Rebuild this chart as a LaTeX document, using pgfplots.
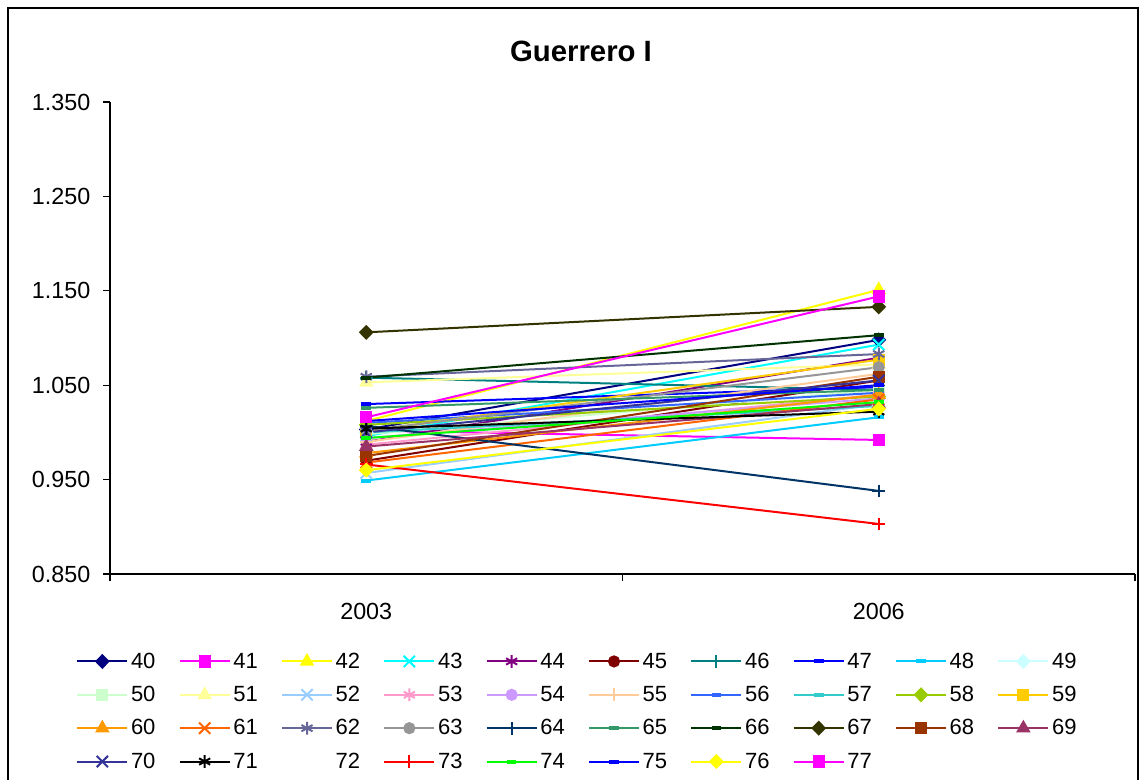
\documentclass[border=0pt]{standalone}
\usepackage{fontspec}
\setmainfont{Liberation Sans}
\usepackage{pgfplots}
\pgfplotsset{compat=1.18}
% Excel 2003 palette, one colour per series
\definecolor{c40}{HTML}{000080}\definecolor{c41}{HTML}{FF00FF}\definecolor{c42}{HTML}{FFFF00}
\definecolor{c43}{HTML}{00FFFF}\definecolor{c44}{HTML}{800080}\definecolor{c45}{HTML}{800000}
\definecolor{c46}{HTML}{008080}\definecolor{c47}{HTML}{0000FF}\definecolor{c48}{HTML}{00CCFF}
\definecolor{c49}{HTML}{CCFFFF}\definecolor{c50}{HTML}{CCFFCC}\definecolor{c51}{HTML}{FFFF99}
\definecolor{c52}{HTML}{99CCFF}\definecolor{c53}{HTML}{FF99CC}\definecolor{c54}{HTML}{CC99FF}
\definecolor{c55}{HTML}{FFCC99}\definecolor{c56}{HTML}{3366FF}\definecolor{c57}{HTML}{33CCCC}
\definecolor{c58}{HTML}{99CC00}\definecolor{c59}{HTML}{FFCC00}\definecolor{c60}{HTML}{FF9900}
\definecolor{c61}{HTML}{FF6600}\definecolor{c62}{HTML}{666699}\definecolor{c63}{HTML}{969696}
\definecolor{c64}{HTML}{003366}\definecolor{c65}{HTML}{339966}\definecolor{c66}{HTML}{003300}
\definecolor{c67}{HTML}{333300}\definecolor{c68}{HTML}{993300}\definecolor{c69}{HTML}{993366}
\definecolor{c70}{HTML}{333399}\definecolor{c71}{HTML}{000000}\definecolor{c73}{HTML}{FF0000}
\definecolor{c74}{HTML}{00FF00}\definecolor{c75}{HTML}{0000FF}\definecolor{c76}{HTML}{FFFF00}
\definecolor{c77}{HTML}{FF00FF}
\pgfplotsset{
  mdia/.style={mark=diamond*,mark size=4.6pt,mark options={solid,xscale=1.3}},
  msq/.style={mark=square*,mark size=3.8pt},
  mtri/.style={mark=triangle*,mark size=4.8pt},
  mx/.style={mark=x,mark size=6pt},
  mast/.style={mark=asterisk,mark size=4.8pt},
  mcir/.style={mark=*,mark size=3.8pt},
  mplus/.style={mark=+,mark size=4.8pt},
  mdash/.style={mark=-,mark size=3.6pt,mark options={solid,line width=3pt}},
}
\begin{document}
\begin{tikzpicture}
\useasboundingbox (0,0) rectangle (855.75pt,585pt);
\draw[black,line width=0.8pt] (6pt,0pt) -- (6pt,579pt) -- (853.5pt,579pt) -- (853.5pt,0pt);
\begin{axis}[
    at={(82.5pt,154.5pt)},anchor=south west,
    scale only axis,width=768.75pt,height=354pt,
    axis x line=bottom,axis y line=left,
    axis line style={-,black,line width=0.8pt},
    clip=false,
    xmin=0,xmax=2,ymin=0.85,ymax=1.35,
    xtick={0,1,2},xticklabels={},
    extra x ticks={0.5,1.5},extra x tick labels={2003,2006},
    extra x tick style={major tick length=0pt},
    ytick={0.85,0.95,1.05,1.15,1.25,1.35},
    tick align=outside,major tick length=5.25pt,
    tick style={black,line width=0.8pt},
    /pgf/number format/.cd,fixed,fixed zerofill,precision=3,assume math mode=true,
    /pgfplots/.cd,
    ticklabel style={font=\fontsize{17.5}{20}\selectfont},
    y tick label style={xshift=-6pt},
    x tick label style={yshift=-18pt},
    title={Guerrero I},
    title style={font=\fontsize{22}{26}\selectfont\bfseries,
        at={(axis description cs:0.4595,1.091)},anchor=center},
    every axis plot/.append style={line width=1.5pt},
    legend columns=10,
    legend style={draw=none,fill=none,at={(axis description cs:-0.037,-0.155)},anchor=north west,
        font=\fontsize{16.5}{19}\selectfont,
        nodes={inner sep=2pt},row sep=8pt,
        /tikz/every even column/.append style={column sep=15.4pt}},
    legend image code/.code={\draw[mark repeat=2,mark phase=2,line width=1.5pt]
        plot coordinates {(0pt,0pt) (18.75pt,0pt) (37.5pt,0pt)};},
    legend entries={40,41,42,43,44,45,46,47,48,49,50,51,52,53,54,55,56,57,58,59,
        60,61,62,63,64,65,66,67,68,69,70,71,72,73,74,75,76,77},
  ]
  \addplot[c40,mdia]  coordinates {(0.5,1.003) (1.5,1.098)};
  \addplot[c41,msq]   coordinates {(0.5,1.002) (1.5,0.992)};
  \addplot[c42,mtri]  coordinates {(0.5,1.012) (1.5,1.151)};
  \addplot[c43,mx]    coordinates {(0.5,0.996) (1.5,1.093)};
  \addplot[c44,mast]  coordinates {(0.5,0.990) (1.5,1.079)};
  \addplot[c45,mcir]  coordinates {(0.5,0.970) (1.5,1.055)};
  \addplot[c46,mplus] coordinates {(0.5,1.058) (1.5,1.045)};
  \addplot[c47,mdash] coordinates {(0.5,1.030) (1.5,1.048)};
  \addplot[c48,mdash] coordinates {(0.5,0.949) (1.5,1.016)};
  \addplot[c49,mdia]  coordinates {(0.5,1.000) (1.5,1.028)};
  \addplot[c50,msq]   coordinates {(0.5,0.998) (1.5,1.045)};
  \addplot[c51,mtri]  coordinates {(0.5,1.053) (1.5,1.072)};
  \addplot[c52,mx]    coordinates {(0.5,0.957) (1.5,1.030)};
  \addplot[c53,mast]  coordinates {(0.5,0.987) (1.5,1.040)};
  \addplot[c54,mcir]  coordinates {(0.5,0.994) (1.5,1.036)};
  \addplot[c55,mplus] coordinates {(0.5,0.990) (1.5,1.062)};
  \addplot[c56,mdash] coordinates {(0.5,1.010) (1.5,1.042)};
  \addplot[c57,mdash] coordinates {(0.5,1.000) (1.5,1.028)};
  \addplot[c58,mdia]  coordinates {(0.5,1.008) (1.5,1.038)};
  \addplot[c59,msq]   coordinates {(0.5,1.001) (1.5,1.077)};
  \addplot[c60,mtri]  coordinates {(0.5,0.978) (1.5,1.040)};
  \addplot[c61,mx]    coordinates {(0.5,0.968) (1.5,1.035)};
  \addplot[c62,mast]  coordinates {(0.5,1.059) (1.5,1.083)};
  \addplot[c63,mcir]  coordinates {(0.5,1.002) (1.5,1.069)};
  \addplot[c64,mplus] coordinates {(0.5,1.007) (1.5,0.938)};
  \addplot[c65,mdash] coordinates {(0.5,1.026) (1.5,1.045)};
  \addplot[c66,mdash] coordinates {(0.5,1.058) (1.5,1.103)};
  \addplot[c67,mdia]  coordinates {(0.5,1.106) (1.5,1.133)};
  \addplot[c68,msq]   coordinates {(0.5,0.975) (1.5,1.059)};
  \addplot[c69,mtri]  coordinates {(0.5,0.985) (1.5,1.030)};
  \addplot[c70,mx]    coordinates {(0.5,1.000) (1.5,1.055)};
  \addplot[c71,mast]  coordinates {(0.5,1.004) (1.5,1.022)};
  \addlegendimage{empty legend}
  \addplot[c73,mplus] coordinates {(0.5,0.966) (1.5,0.903)};
  \addplot[c74,mdash] coordinates {(0.5,0.994) (1.5,1.032)};
  \addplot[c75,mdash] coordinates {(0.5,1.012) (1.5,1.050)};
  \addplot[c76,mdia]  coordinates {(0.5,0.960) (1.5,1.025)};
  \addplot[c77,msq]   coordinates {(0.5,1.016) (1.5,1.144)};
\end{axis}
\end{tikzpicture}
\end{document}
